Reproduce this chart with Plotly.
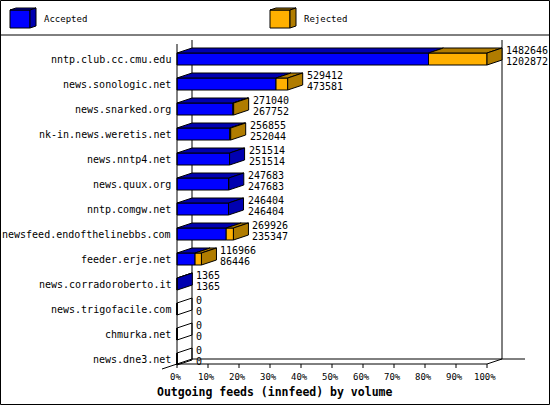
import plotly.graph_objects as go

# innfeed outgoing feeds, offered and accepted articles per peer
hosts = [
    "nntp.club.cc.cmu.edu", "news.sonologic.net", "news.snarked.org",
    "nk-in.news.weretis.net", "news.nntp4.net", "news.quux.org",
    "nntp.comgw.net", "newsfeed.endofthelinebbs.com", "feeder.erje.net",
    "news.corradoroberto.it", "news.trigofacile.com", "chmurka.net",
    "news.dne3.net",
]
offered = [1482646, 529412, 271040, 256855, 251514, 247683, 246404,
           269926, 116966, 1365, 0, 0, 0]
accepted = [1202872, 473581, 267752, 252044, 251514, 247683, 246404,
            235347, 86446, 1365, 0, 0, 0]
pct_ticks = [0, 10, 20, 30, 40, 50, 60, 70, 80, 90, 100]

# page geometry (pixels)
W, H = 550, 405
X0 = 177            # 0% on the front plane
PX_PER_PCT = 3.1
Y0 = 59             # centre of the first bar
ROW = 25            # one bar row
DX = 15 / PX_PER_PCT   # 3d depth, in axis units
DY = 5 / ROW
HALF = 6 / ROW

BLUE, BLUE_SIDE = "#0000ff", "#0000b0"
ORANGE, ORANGE_SIDE = "#ffb000", "#b07c00"
FONT = "DejaVu Sans Mono"


def px(x):
    return x / W


def py(y):
    return 1 - y / H


def add_poly(xs, ys, pts):
    for x, y in pts:
        xs.append(x)
        ys.append(y)
    xs.append(None)
    ys.append(None)


def build_figure():
    top = max(offered)
    acc = [a / top * 100 for a in accepted]
    tot = [o / top * 100 for o in offered]
    rows = list(range(len(hosts)))

    fig = go.Figure()

    # front faces
    fig.add_trace(go.Bar(
        y=rows, x=acc, base=[0] * len(rows), orientation="h", width=2 * HALF,
        marker=dict(color=BLUE, line=dict(color="black", width=1)),
        hoverinfo="skip"))
    fig.add_trace(go.Bar(
        y=rows, x=[t - a for t, a in zip(tot, acc)], base=acc, orientation="h",
        width=2 * HALF,
        marker=dict(color=ORANGE, line=dict(color="black", width=1)),
        hoverinfo="skip"))

    # top and right faces
    faces = {k: ([], []) for k in ("acc_top", "rej_top", "acc_side", "rej_side", "empty")}
    for i, a, t in zip(rows, acc, tot):
        yt = i - HALF
        if a > 0:
            add_poly(*faces["acc_top"], [(0, yt), (a, yt), (a + DX, yt - DY), (DX, yt - DY), (0, yt)])
        if t > a:
            add_poly(*faces["rej_top"], [(a, yt), (t, yt), (t + DX, yt - DY), (a + DX, yt - DY), (a, yt)])
        side = [(t, yt), (t + DX, yt - DY), (t + DX, i + HALF - DY), (t, i + HALF), (t, yt)]
        if t == 0:
            add_poly(*faces["empty"], side)
        elif t > a:
            add_poly(*faces["rej_side"], side)
        else:
            add_poly(*faces["acc_side"], side)

    for key, color in (("acc_top", BLUE_SIDE), ("rej_top", ORANGE_SIDE),
                       ("acc_side", BLUE_SIDE), ("rej_side", ORANGE_SIDE)):
        xs, ys = faces[key]
        if xs:
            fig.add_trace(go.Scatter(x=xs, y=ys, mode="lines", fill="toself",
                                     fillcolor=color, line=dict(color="black", width=1),
                                     hoverinfo="skip"))
    xs, ys = faces["empty"]
    fig.add_trace(go.Scatter(x=xs, y=ys, mode="lines",
                             line=dict(color="black", width=1), hoverinfo="skip"))

    ann = []
    # host names
    for i, h in zip(rows, hosts):
        ann.append(dict(x=-4 / PX_PER_PCT, y=i, text=h, xanchor="right", yanchor="middle",
                        showarrow=False, font=dict(family=FONT, size=10, color="black")))
    # value labels: offered on top, accepted below
    for i, t, o, a in zip(rows, tot, offered, accepted):
        for val, dy in ((o, -0.36), (a, 0.08)):
            ann.append(dict(x=t + DX + 2 / PX_PER_PCT, y=i + dy, text=str(val),
                            xanchor="left", yanchor="middle", showarrow=False,
                            font=dict(family=FONT, size=10, color="black")))
    # percent ticks
    yfloor = (364 - Y0) / ROW
    for v in pct_ticks:
        ann.append(dict(x=v - 0.6, y=(377 - Y0) / ROW, text=f"{v}%", xanchor="center",
                        yanchor="middle", showarrow=False,
                        font=dict(family=FONT, size=9, color="black")))

    # title and legend
    ann.append(dict(xref="paper", yref="paper", x=px(155), y=py(392),
                    text="<b>Outgoing feeds (innfeed) by volume</b>", xanchor="left",
                    yanchor="middle", showarrow=False,
                    font=dict(family=FONT, size=11.5, color="black")))
    for name, lx in (("Accepted", 42), ("Rejected", 302)):
        ann.append(dict(xref="paper", yref="paper", x=px(lx), y=py(19), text=name,
                        xanchor="left", yanchor="middle", showarrow=False,
                        font=dict(family=FONT, size=9, color="black")))

    line = dict(color="black", width=1)
    shapes = []

    def seg(x0, y0, x1, y1):
        shapes.append(dict(type="line", xref="x", yref="y", x0=x0, y0=y0, x1=x1, y1=y1,
                           line=line, layer="below"))

    yb_top = (40 - Y0) / ROW
    yb_bot = (359 - Y0) / ROW
    seg(DX, yb_top, DX, yb_bot)                        # back left wall
    seg(100 + DX, yb_top, 100 + DX, yb_bot)            # back right wall
    seg(DX, yb_bot, (525 - X0) / PX_PER_PCT, yb_bot)   # back floor
    seg(-DX, yfloor + DY, DX, yfloor - DY)             # left floor edge
    seg(100, yfloor, 100 + DX, yb_bot)                 # right floor edge
    seg(0, yfloor, 100, yfloor)                        # front floor
    for v in pct_ticks:
        seg(v, yfloor, v, yfloor + 4 / ROW)
    shapes.append(dict(type="line", xref="x", yref="y", x0=0, x1=0,
                       y0=(44 - Y0) / ROW, y1=(365 - Y0) / ROW, line=line))

    # legend cubes
    def cube(x, front, side):
        x0, x1, y0, y1 = px(x), px(x + 20), py(10), py(28)
        dx, dy = px(6), 2 / H
        shapes.append(dict(type="rect", xref="paper", yref="paper", x0=x0, x1=x1,
                           y0=y0, y1=y1, fillcolor=front, line=line))
        shapes.append(dict(type="path", xref="paper", yref="paper", fillcolor=side, line=line,
                           path=f"M{x0},{y0} L{x1},{y0} L{x1 + dx},{y0 + dy} L{x0 + dx},{y0 + dy} Z"))
        shapes.append(dict(type="path", xref="paper", yref="paper", fillcolor=side, line=line,
                           path=f"M{x1},{y0} L{x1 + dx},{y0 + dy} L{x1 + dx},{y1 + dy} L{x1},{y1} Z"))

    cube(10, BLUE, BLUE_SIDE)
    cube(270, ORANGE, ORANGE_SIDE)

    # frame and legend separator
    shapes.append(dict(type="rect", xref="paper", yref="paper", x0=px(0.5), x1=px(549.5),
                       y0=py(0.5), y1=py(404.5), line=line))
    shapes.append(dict(type="line", xref="paper", yref="paper", x0=0, x1=1,
                       y0=py(35), y1=py(35), line=line))

    fig.update_layout(
        width=W, height=H, margin=dict(l=0, r=0, t=0, b=0, pad=0),
        paper_bgcolor="white", plot_bgcolor="white", showlegend=False,
        barmode="overlay", annotations=ann, shapes=shapes,
        xaxis=dict(visible=False, range=[-X0 / PX_PER_PCT, (W - X0) / PX_PER_PCT], fixedrange=True),
        yaxis=dict(visible=False, range=[(H - Y0) / ROW, -Y0 / ROW], fixedrange=True),
    )
    return fig


def main():
    fig = build_figure()
    # the page body has a default margin; drop it so the chart sits at 0,0
    fig.write_html("out.html", config={"displayModeBar": False},
                   post_script="document.body.style.margin='0';")


if __name__ == "__main__":
    main()
